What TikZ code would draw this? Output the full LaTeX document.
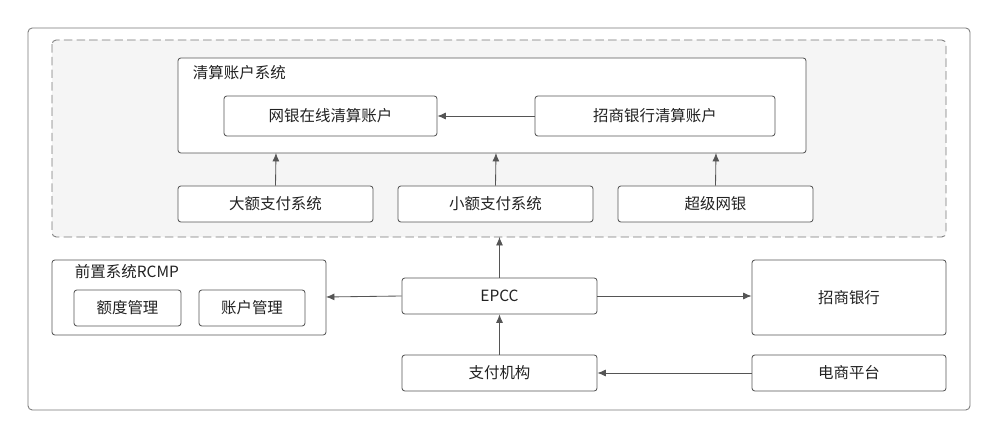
\documentclass[tikz,border=0pt]{standalone}
\usepackage{fontspec}
\setmainfont{Noto Sans CJK SC}
\usetikzlibrary{arrows.meta}
\definecolor{ln}{HTML}{555555}
\definecolor{tx}{HTML}{222222}
\begin{document}
\begin{tikzpicture}[x=0.025cm,y=-0.025cm,
  bx/.style={draw=ln,line width=0.6pt,rounded corners=2pt,fill=white},
  lb/.style={text=tx,font=\fontsize{11}{13}\selectfont},
  ar/.style={draw=ln,line width=0.6pt,-{Latex[length=6pt,width=5pt]}}]
\useasboundingbox (0,0) rectangle (1000,438);
\draw[draw=ln!80,line width=0.6pt,rounded corners=3pt] (28,28) rectangle (970,410);
\draw[draw=ln!80,fill=black!4,dashed,dash pattern=on 6pt off 3pt,line width=0.6pt,rounded corners=3pt] (52,40) rectangle (946,237);
\draw[bx] (178,58) rectangle (806,153);
\node[lb,anchor=west] (qs) at (188,73) {清算账户系统};
\node[bx,lb,minimum width=213*0.025cm,minimum height=40*0.025cm] (wy) at (330.5,116) {网银在线清算账户};
\node[bx,lb,minimum width=240*0.025cm,minimum height=40*0.025cm] (zs) at (655,116) {招商银行清算账户};
\coordinate (top1) at (276,153);\coordinate (top2) at (496,153);\coordinate (top3) at (716,153);
\node[bx,lb,minimum width=195*0.025cm,minimum height=36*0.025cm] (de) at (275.5,204) {大额支付系统};
\node[bx,lb,minimum width=195*0.025cm,minimum height=36*0.025cm] (xe) at (495.5,204) {小额支付系统};
\node[bx,lb,minimum width=195*0.025cm,minimum height=36*0.025cm] (cj) at (715.5,204) {超级网银};
\draw[bx] (52,260) rectangle (326,335);
\node[lb,anchor=west] (rl) at (70,272) {前置系统RCMP};
\coordinate (rcmp) at (326,297);
\node[bx,lb,minimum width=107*0.025cm,minimum height=36*0.025cm] (ed) at (127.5,308) {额度管理};
\node[bx,lb,minimum width=106*0.025cm,minimum height=36*0.025cm] (zh) at (252,308) {账户管理};
\node[bx,lb,minimum width=195*0.025cm,minimum height=36*0.025cm] (ep) at (499.5,296) {EPCC};
\node[bx,lb,minimum width=194*0.025cm,minimum height=75*0.025cm] (zy) at (849,297.5) {招商银行};
\node[bx,lb,minimum width=195*0.025cm,minimum height=36*0.025cm] (zf) at (499.5,373) {支付机构};
\node[bx,lb,minimum width=194*0.025cm,minimum height=36*0.025cm] (ds) at (849,373) {电商平台};
\coordinate (dash) at (499.5,237);
\draw[ar] (zs) -- (wy);
\draw[ar] (de.north) -- (top1);
\draw[ar] (xe.north) -- (top2);
\draw[ar] (cj.north) -- (top3);
\draw[ar] (ep.north) -- (dash);
\draw[ar] (ep.west) -- (rcmp);
\draw[ar] (ep.east) -- (ep.east -| zy.west);
\draw[ar] (zf.north) -- (ep.south);
\draw[ar] (ds.west) -- (zf.east);
\end{tikzpicture}
\end{document}
